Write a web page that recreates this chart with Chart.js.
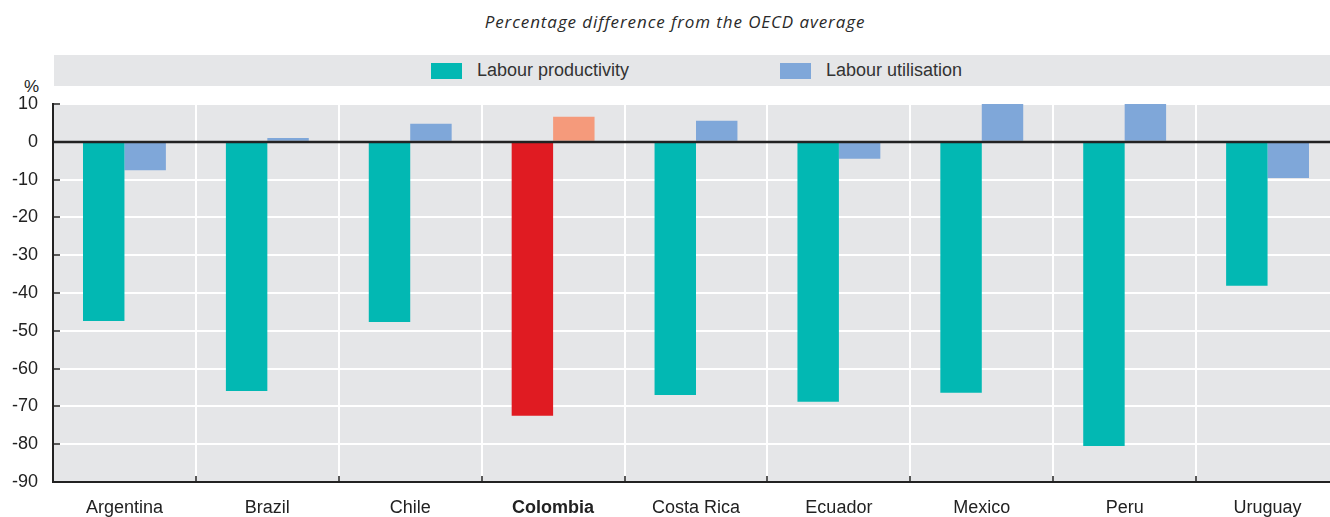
<!DOCTYPE html>
<html>
<head>
<meta charset="utf-8">
<script src="https://cdn.jsdelivr.net/npm/chart.js@4/dist/chart.umd.min.js"></script>
<style>
  html, body { margin: 0; padding: 0; background: #ffffff; }
  #wrap { position: relative; width: 1330px; height: 517px; overflow: hidden; }
  #chart { position: absolute; left: 0; top: 0; }
  .subtitle {
    position: absolute; left: 0; width: 1350px; top: 10px; text-align: center;
    font-family: "Open Sans", "Noto Sans", sans-serif; font-style: italic;
    font-size: 17px; color: #2a2a2a; letter-spacing: 0.9px;
  }
  .legend-band { position: absolute; left: 54px; top: 55px; width: 1276px; height: 31px; background: #e5e6e8; z-index: 1; }
  .legend-item { position: absolute; top: 0; height: 31px; display: flex; align-items: center;
    font-family: "Liberation Sans Narrow", "Liberation Sans", sans-serif; font-size: 18px; color: #333; }
  .legend-item span.box { display: inline-block; width: 31px; height: 16px; margin-right: 15px; }
  .unit { position: absolute; left: 24px; top: 77px; font-family: "Liberation Sans Narrow", "Liberation Sans", sans-serif; font-size: 17px; color: #222; }
</style>
</head>
<body>
<div id="wrap">
  <div class="subtitle">Percentage difference from the OECD average</div>
  <div class="unit">%</div>
  <canvas id="chart" width="1339" height="517"></canvas>
  <div class="legend-band">
    <div class="legend-item" id="lg0" style="left:377px"><span class="box"></span><span class="txt"></span></div>
    <div class="legend-item" id="lg1" style="left:726px"><span class="box"></span><span class="txt"></span></div>
  </div>
</div>
<script>
// Countries on the x axis
const countries = ["Argentina", "Brazil", "Chile", "Colombia", "Costa Rica", "Ecuador", "Mexico", "Peru", "Uruguay"];
// Percentage difference from the OECD average
const labourProductivity = [-47.4, -65.9, -47.7, -72.5, -67.0, -68.8, -66.4, -80.5, -38.1];
const labourUtilisation  = [-7.5, 1.0, 4.8, 6.6, 5.6, -4.5, 10, 10, -9.6];
const seriesNames = ["Labour productivity", "Labour utilisation"];
const yTicks = [10, 0, -10, -20, -30, -40, -50, -60, -70, -80, -90];
const highlight = "Colombia";

const TEAL = "#02b8b3", BLUE = "#7fa7d9", RED = "#e01b22", SALMON = "#f59a7b";
const BG = "#e5e6e8", INK = "#222222";
const FONT = '"Liberation Sans Narrow", "Liberation Sans", sans-serif';

const colorsFor = (base, hi) => countries.map(c => c === highlight ? hi : base);

// HTML legend
[[TEAL, 0], [BLUE, 1]].forEach(([col, i]) => {
  const el = document.getElementById("lg" + i);
  el.querySelector(".box").style.background = col;
  el.querySelector(".txt").textContent = seriesNames[i];
});

// Plot background, zero line, inward ticks
const decor = {
  id: "decor",
  beforeDraw(chart) {
    const { ctx, chartArea: a } = chart;
    ctx.save();
    ctx.fillStyle = BG;
    ctx.fillRect(a.left, a.top, a.right - a.left, a.bottom - a.top);
    ctx.restore();
  },
  afterDatasetsDraw(chart) {
    const { ctx, chartArea: a, scales: { x, y } } = chart;
    ctx.save();
    ctx.strokeStyle = INK;
    // zero line
    const y0 = Math.round(y.getPixelForValue(0));
    ctx.lineWidth = 2.5;
    ctx.beginPath(); ctx.moveTo(a.left, y0); ctx.lineTo(a.right, y0); ctx.stroke();
    // inward y ticks
    ctx.lineWidth = 1.5;
    yTicks.forEach(v => {
      const py = Math.round(y.getPixelForValue(v));
      ctx.beginPath(); ctx.moveTo(a.left, py); ctx.lineTo(a.left + 7, py); ctx.stroke();
    });
    // inward x ticks at category boundaries
    for (let i = 1; i < countries.length; i++) {
      const px = Math.round((x.getPixelForValue(i - 1) + x.getPixelForValue(i)) / 2);
      ctx.beginPath(); ctx.moveTo(px, a.bottom); ctx.lineTo(px, a.bottom - 6); ctx.stroke();
    }
    ctx.restore();
  }
};

new Chart(document.getElementById("chart"), {
  type: "bar",
  data: {
    labels: countries,
    datasets: [
      { label: seriesNames[0], data: labourProductivity, backgroundColor: colorsFor(TEAL, RED) },
      { label: seriesNames[1], data: labourUtilisation, backgroundColor: colorsFor(BLUE, SALMON) }
    ]
  },
  options: {
    responsive: false,
    animation: false,
    devicePixelRatio: 1,
    layout: { padding: { top: 104, right: 0, left: 0, bottom: 0 } },
    datasets: { bar: { categoryPercentage: 0.58, barPercentage: 1.0 } },
    plugins: { legend: { display: false }, tooltip: { enabled: false } },
    scales: {
      x: {
        grid: { offset: true, color: "#ffffff", lineWidth: 2, drawTicks: false },
        border: { color: INK, width: 2 },
        ticks: {
          padding: 15, color: INK,
          font: ctx => ({ family: FONT, size: 18, weight: countries[ctx.index] === highlight ? "bold" : "normal" })
        },
        afterFit: s => { s.height = 35; }
      },
      y: {
        min: -90, max: 10,
        afterBuildTicks: s => { s.ticks = yTicks.map(v => ({ value: v })); },
        grid: { color: "#ffffff", lineWidth: 2, drawTicks: false },
        border: { color: INK, width: 2 },
        ticks: { padding: 15, color: INK, font: { family: FONT, size: 18 } },
        afterFit: s => { s.width = 53; }
      }
    }
  },
  plugins: [decor]
});
</script>
</body>
</html>
